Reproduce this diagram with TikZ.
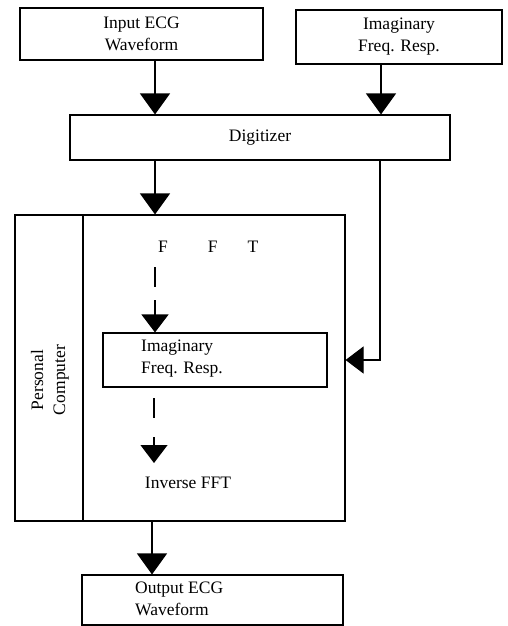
\documentclass[tikz,border=0pt]{standalone}
\usepackage{fontspec}
\setmainfont{Liberation Serif}
\usetikzlibrary{arrows.meta,calc}
\begin{document}
\begin{tikzpicture}[x=1pt,y=-1pt,
  every node/.style={font=\fontsize{17.5}{22}\selectfont},
  blk/.style={draw,line width=1.1pt,inner sep=0pt},
  txt/.style={inner sep=0pt,align=left},
  conn/.style={line width=1.1pt},
  bigarr/.style={conn,-{Triangle[width=30pt,length=21pt]}},
  smallarr/.style={conn,-{Triangle[width=27pt,length=18pt]}}]
\useasboundingbox (0,0) rectangle (508,626);
% boxes
\node[blk,minimum width=243pt,minimum height=52pt,align=center] (in) at (141.5,34) {Input ECG\\Waveform};
\node[blk,minimum width=206pt,minimum height=54pt,align=center] (img) at (399,37) {Imaginary\\Freq. Resp.};
\node[blk,minimum width=380pt,minimum height=45pt] (dig) at (260,137.5) {Digitizer};
\node[blk,minimum width=330pt,minimum height=306pt] (pc) at (180,368) {};
\coordinate (divtop) at (83,215);
\draw[conn] (divtop) -- (divtop |- pc.south);
\node[txt,align=center,rotate=90] (pclab) at (50,380) {Personal\\Computer};
\node[txt,anchor=base west] (fft) at (158,252) {F\hspace{40pt}F\hspace{30pt}T};
\node[blk,minimum width=224pt,minimum height=54pt] (iimg) at (215,360) {};
\node[txt,anchor=west] (iimgt) at (141,359) {Imaginary\\Freq. Resp.};
\node[txt] (ifft) at (188,483) {Inverse FFT};
\node[blk,minimum width=261pt,minimum height=50pt] (out) at (212.5,600) {};
\node[txt,anchor=west] (outt) at (135,599) {Output ECG\\Waveform};
% connectors
\draw[bigarr] ([xshift=13.5]in.south) -- ([xshift=13.5]in.south |- dig.north);
\draw[bigarr] ([xshift=-18]img.south) -- ([xshift=-18]img.south |- dig.north);
\draw[bigarr] ([xshift=-105]dig.south) -- ([xshift=-105]dig.south |- pc.north);
\draw[smallarr] ([xshift=120]dig.south) |- (iimg.center -| pc.east);
\coordinate (d1) at (155,267);
\draw[smallarr,dash pattern=on 20pt off 13pt on 200pt] (d1) -- (d1 |- iimg.north);
\coordinate (d2) at (154,398);
\coordinate (d2e) at (154,463);
\draw[smallarr,dash pattern=on 20pt off 19pt on 200pt] (d2) -- (d2e);
\draw[bigarr] ([xshift=-60.5]out.north |- pc.south) -- ([xshift=-60.5]out.north);
\end{tikzpicture}
\end{document}
